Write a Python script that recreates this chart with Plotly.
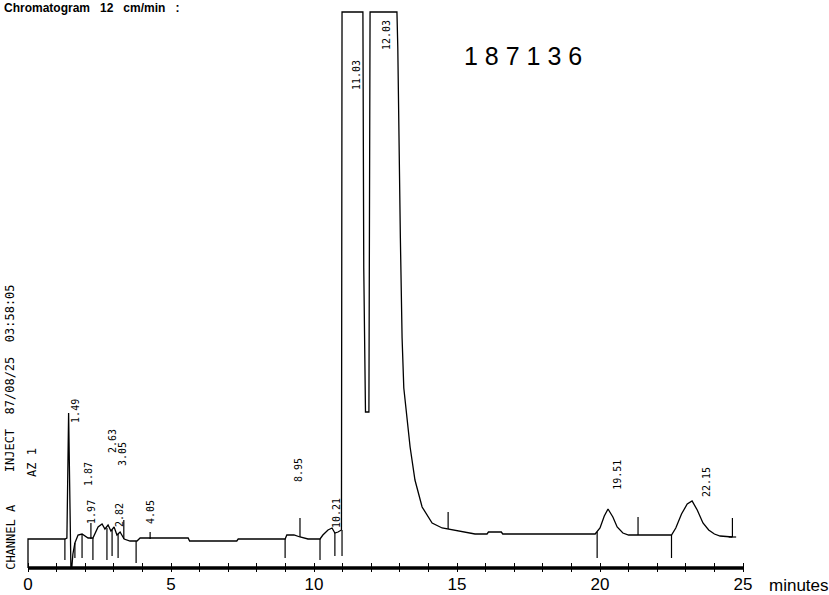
import plotly.graph_objects as go

# Detector trace: time in minutes, signal in recorder units (pen limit 556)
trace_time = [0, 0, 1.29, 1.36, 1.42, 1.47, 1.50, 1.53, 1.57, 1.64, 1.75, 1.89, 2.10, 2.27,
              2.38, 2.45, 2.59, 2.69, 2.80, 2.90, 3.01, 3.11, 3.22, 3.36, 3.57, 3.81, 3.92,
              5.60, 5.65, 7.30, 7.35, 8.99, 9.05, 9.30, 9.51, 9.79, 10.21, 10.31, 10.49,
              10.63, 10.73, 10.84, 10.96, 10.98, 11.71, 11.74, 11.80, 11.92, 11.96, 12.90,
              12.93, 12.97, 13.02, 13.08, 13.14, 13.36, 13.53, 13.78, 14.13, 14.48, 14.69,
              15.17, 15.63, 16.05, 16.10, 16.55, 16.60, 19.83, 20.00, 20.15, 20.28, 20.45,
              20.60, 20.80, 21.00, 21.33, 22.50, 22.65, 22.85, 23.05, 23.22, 23.40, 23.60,
              23.80, 24.00, 24.20, 24.63]
trace_signal = [0, 29, 29, 30, 155, 60, 0, 0, 14, 25, 33, 34, 30, 30,
                36, 41, 44, 39, 43, 37, 41, 33, 36, 29, 27, 27, 30,
                30, 27, 27, 29, 29, 33, 33, 31, 29, 29, 33, 38,
                40, 35, 36, 38, 556, 556, 300, 156, 156, 556, 556,
                520, 420, 330, 230, 180, 121, 88, 61, 45, 40, 39,
                36, 34, 34, 36, 36, 34, 34, 40, 52, 59, 51,
                41, 35, 33, 33, 33, 40, 54, 64, 67, 58, 45,
                38, 34, 32, 31]

# Integrator event marks: time, lower and upper end of each stroke
mark_time = [1.29, 1.64, 1.89, 2.27, 2.76, 2.94, 3.15, 3.78, 8.99, 10.21, 10.73, 10.98,
             19.90, 22.50, 9.51, 14.69, 21.33, 24.63, 2.20, 3.35, 4.27]
mark_low = [8, 10, 10, 8, 8, 12, 10, 5, 10, 8, 12, 12,
            10, 10, 31, 39, 33, 31, 29, 29, 29]
mark_high = [29, 25, 34, 30, 40, 38, 34, 27, 29, 29, 35, 38,
             36, 33, 50, 56, 51, 50, 45, 48, 36]

# Retention times printed beside the peaks
rt_text = ["1.49", "1.87", "1.97", "2.63", "3.05", "2.82", "4.05", "8.95", "10.21",
           "11.03", "12.03", "19.51", "22.15"]
rt_time = [1.64, 2.10, 2.20, 2.94, 3.29, 3.18, 4.27, 9.44, 10.77,
           11.47, 12.52, 20.59, 23.71]
rt_level = [157, 94, 56, 127, 114, 53, 56, 98, 55,
            493, 533, 93, 86]

x_ticks = list(range(0, 26))
x_tick_text = [str(v) if v % 5 == 0 else "" for v in x_ticks]

fig = go.Figure()

# time axis drawn as a heavy bar from 0 to 25 min
fig.add_trace(go.Scatter(x=[0, 25], y=[0, 0], mode="lines",
                         line=dict(color="black", width=3.5), hoverinfo="skip"))

fig.add_trace(go.Scatter(x=trace_time, y=trace_signal, mode="lines",
                         line=dict(color="black", width=1.3), hoverinfo="skip"))

mx, my = [], []
for t, lo, hi in zip(mark_time, mark_low, mark_high):
    mx += [t, t, None]
    my += [lo, hi, None]
# foot of the final stop mark
mx += [24.50, 24.76, None]
my += [31, 31, None]
fig.add_trace(go.Scatter(x=mx, y=my, mode="lines",
                         line=dict(color="black", width=1.2), hoverinfo="skip"))

annotations = []
for txt, t, v in zip(rt_text, rt_time, rt_level):
    annotations.append(dict(x=t, y=v, xref="x", yref="y", text=txt, textangle=-90,
                            showarrow=False,
                            font=dict(family="DejaVu Sans Mono", size=10, color="black")))

mono = dict(family="DejaVu Sans Mono", size=12, color="black")
annotations += [
    dict(x=-0.62, y=190, xref="x", yref="y", text="INJECT  87/08/25  03:58:05",
         textangle=-90, showarrow=False, font=mono),
    dict(x=0.14, y=105, xref="x", yref="y", text="AZ 1", textangle=-90,
         showarrow=False, font=mono),
    dict(x=-0.60, y=31, xref="x", yref="y", text="CHANNEL A", textangle=-90,
         showarrow=False, font=mono),
    dict(x=17.3, y=512, xref="x", yref="y", text="1 8 7 1 3 6", showarrow=False,
         font=dict(family="Liberation Sans", size=25, color="black")),
    dict(x=25.85, y=0, xref="x", yref="y", text="minutes", showarrow=False,
         xanchor="left", yanchor="top", yshift=-6,
         font=dict(family="Liberation Sans", size=17, color="black")),
    # header line along the top edge of the sheet
    dict(x=2 / 829, y=1.0, xref="paper", yref="paper",
         text="<b>Chromatogram   12   cm/min   :</b>",
         showarrow=False, xanchor="left", yanchor="top", yshift=1,
         font=dict(family="Liberation Sans", size=12, color="black")),
]

fig.update_layout(
    width=829, height=595,
    margin=dict(l=0, r=0, t=0, b=23),
    paper_bgcolor="white", plot_bgcolor="white",
    showlegend=False,
    annotations=annotations,
    xaxis=dict(range=[-0.979, 28.007], tickvals=x_ticks, ticktext=x_tick_text,
               ticks="inside", ticklen=9, tickwidth=1.2, tickcolor="black",
               showgrid=False, zeroline=False, showline=False,
               tickfont=dict(family="Liberation Sans", size=17, color="black")),
    yaxis=dict(range=[-4, 568], visible=False, showgrid=False, zeroline=False),
)

fig.write_html("out.html")
